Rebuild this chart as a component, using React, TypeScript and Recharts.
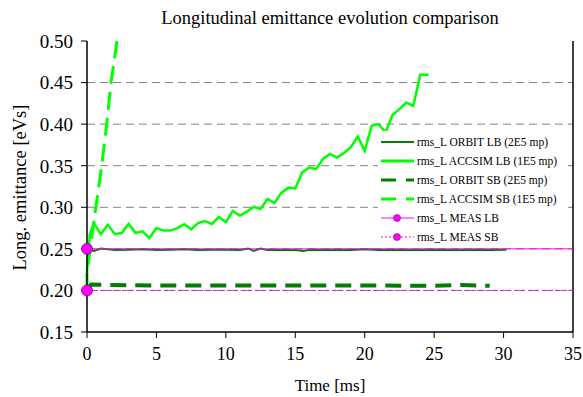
import { LineChart, Line, XAxis, YAxis, CartesianGrid, ReferenceLine, Legend, Label } from "recharts";

const xTicks = [0, 5, 10, 15, 20, 25, 30, 35];
const yTicks = [0.15, 0.2, 0.25, 0.3, 0.35, 0.4, 0.45, 0.5];
const gridLevels = [0.2, 0.25, 0.3, 0.35, 0.4, 0.45];

const orbitLbTime = [0, 0.5, 1, 2, 3, 4, 5, 6, 7, 8, 9, 10, 11, 11.6, 12, 12.5, 13, 14, 15, 15.6, 16, 17, 18, 19, 20, 21, 22, 23, 24, 25, 26, 27, 28, 29, 30.2];
const orbitLbValue = [0.25, 0.2475, 0.2505, 0.2485, 0.249, 0.2495, 0.2485, 0.249, 0.2495, 0.2485, 0.249, 0.249, 0.2485, 0.2505, 0.2475, 0.2505, 0.2485, 0.2485, 0.2485, 0.2475, 0.249, 0.2485, 0.249, 0.2485, 0.2495, 0.2485, 0.249, 0.2485, 0.2485, 0.249, 0.2485, 0.2485, 0.249, 0.2485, 0.249];

const accsimLbTime = [0, 0.2, 0.5, 1, 1.5, 2, 2.5, 3, 3.5, 4, 4.5, 5, 5.5, 6, 6.5, 7, 7.5, 8, 8.5, 9, 9.5, 10, 10.5, 11, 11.5, 12, 12.5, 13, 13.5, 14, 14.5, 15, 15.5, 16, 16.5, 17, 17.5, 18, 18.5, 19, 19.5, 20, 20.5, 21, 21.5, 22, 22.5, 23, 23.5, 24, 24.6];
const accsimLbValue = [0.222, 0.267, 0.281, 0.2675, 0.279, 0.268, 0.269, 0.28, 0.269, 0.271, 0.263, 0.275, 0.272, 0.272, 0.275, 0.2795, 0.2735, 0.281, 0.2835, 0.28, 0.2885, 0.282, 0.2955, 0.29, 0.2945, 0.3005, 0.298, 0.31, 0.305, 0.3176, 0.3236, 0.3226, 0.342, 0.3477, 0.3458, 0.3582, 0.3642, 0.3598, 0.3651, 0.3723, 0.3851, 0.3678, 0.398, 0.4, 0.39, 0.411, 0.418, 0.426, 0.422, 0.4594, 0.4594];

const orbitSbTime = [0, 0.3, 2, 5, 10, 15, 20, 25, 27, 29];
const orbitSbValue = [0.202, 0.207, 0.2065, 0.206, 0.206, 0.206, 0.206, 0.2055, 0.2065, 0.2055];

const accsimSbTime = [0, 0, 0.58, 1.06, 1.42, 1.73, 2.16, 2.5];
const accsimSbValue = [0.2, 0.222, 0.293, 0.35, 0.4, 0.45, 0.5, 0.55];

const measLbTime = [0, 35];
const measLbValue = [0.25, 0.25];
const measSbTime = [0, 35];
const measSbValue = [0.2, 0.2];

const zip = (t: number[], v: number[]) => t.map((x, i) => ({ t: x, v: v[i] }));

const FONT = "Liberation Serif";

const series = [
  { name: "rms_L ORBIT LB (2E5 mp)", data: zip(orbitLbTime, orbitLbValue), color: "#008000", width: 2, dash: undefined, legendDash: undefined, marker: false },
  { name: "rms_L ACCSIM LB (1E5 mp)", data: zip(accsimLbTime, accsimLbValue), color: "#00ff00", width: 2.5, dash: undefined, legendDash: undefined, marker: false },
  { name: "rms_L ORBIT SB (2E5 mp)", data: zip(orbitSbTime, orbitSbValue), color: "#008000", width: 4, dash: "16 9", legendDash: "15 10", marker: false },
  { name: "rms_L ACCSIM SB (1E5 mp)", data: zip(accsimSbTime, accsimSbValue), color: "#00ff00", width: 3, dash: "18 8", legendDash: "15 10", marker: false },
  { name: "rms_L MEAS LB", data: zip(measLbTime, measLbValue), color: "#ff00ff", width: 1, dash: undefined, legendDash: undefined, marker: true },
  { name: "rms_L MEAS SB", data: zip(measSbTime, measSbValue), color: "#ff00ff", width: 1, dash: "4 3", legendDash: "2 2", marker: true },
];

function firstDot(props: any) {
  const { cx, cy, index } = props;
  if (index !== 0) return <g key={`e${index}`} />;
  return <circle key={`d${index}`} cx={cx} cy={cy} r={5.5} fill="#ff00ff" stroke="#800080" strokeWidth={0.8} />;
}

function XTick(props: any) {
  const { x, y, payload } = props;
  return (
    <text x={x} y={y} dy="0.75em" textAnchor="middle" fontFamily={FONT} fontSize={18} fill="#000">
      {payload.value}
    </text>
  );
}

function YTick(props: any) {
  const { x, y, payload } = props;
  return (
    <text x={x} y={y} dy="0.36em" textAnchor="end" fontFamily={FONT} fontSize={19} fill="#000">
      {Number(payload.value).toFixed(2)}
    </text>
  );
}

function XTitle(props: any) {
  const { x, width } = props.viewBox;
  return (
    <text x={x + width / 2} y={391} textAnchor="middle" fontFamily={FONT} fontSize={17} fill="#000">
      Time [ms]
    </text>
  );
}

function YTitle(props: any) {
  const { y, height } = props.viewBox;
  const cy = y + height / 2 + 1;
  return (
    <text x={20} y={cy} dy="0.35em" textAnchor="middle" transform={`rotate(-90 20 ${cy})`} fontFamily={FONT} fontSize={18.5} fill="#000">
      Long. emittance [eVs]
    </text>
  );
}

function LegendBox() {
  return (
    <div style={{ background: "#fff", width: 188, padding: "2px 0", fontFamily: FONT, fontSize: 11.5, color: "#000" }}>
      {series.map((s) => (
        <div key={s.name} style={{ display: "flex", alignItems: "center", height: 18.9 }}>
          <svg width={36} height={12} style={{ marginLeft: 3, flexShrink: 0 }}>
            <line x1={0} y1={6} x2={33} y2={6} stroke={s.color} strokeWidth={s.width > 2 ? 3 : s.width} strokeDasharray={s.legendDash} />
            {s.marker && <circle cx={16} cy={6} r={3.5} fill="#ff00ff" stroke="#800080" strokeWidth={0.6} />}
          </svg>
          <span style={{ whiteSpace: "nowrap" }}>{s.name}</span>
        </div>
      ))}
    </div>
  );
}

export default function App() {
  return (
    <div style={{ position: "absolute", left: 0, top: 0, width: 583, height: 397, background: "#fff", fontFamily: FONT }}>
      <div style={{ position: "absolute", left: 87, top: 7, width: 486, textAlign: "center", fontSize: 18.5, lineHeight: "22px", color: "#000" }}>
        Longitudinal emittance evolution comparison
      </div>
      <LineChart width={583} height={397} margin={{ top: 41, right: 10, bottom: 0, left: 0 }}>
        <CartesianGrid vertical={false} horizontalValues={gridLevels} stroke="#808080" strokeDasharray="8 5" />
        <XAxis
          type="number"
          dataKey="t"
          domain={[0, 35]}
          ticks={xTicks}
          height={65}
          tickSize={6}
          tickMargin={8}
          axisLine={{ stroke: "#000", strokeWidth: 1.5 }}
          tickLine={{ stroke: "#000" }}
          tick={<XTick />}
        >
          <Label content={<XTitle />} />
        </XAxis>
        <YAxis
          type="number"
          domain={[0.15, 0.5]}
          ticks={yTicks}
          allowDataOverflow
          width={87}
          tickSize={6}
          tickMargin={8}
          axisLine={{ stroke: "#000", strokeWidth: 1.5 }}
          tickLine={{ stroke: "#000" }}
          tick={<YTick />}
        >
          <Label content={<YTitle />} />
        </YAxis>
        <ReferenceLine x={35} stroke="#000" strokeWidth={1.5} />
        {series.map((s) => (
          <Line
            key={s.name}
            data={s.data}
            dataKey="v"
            name={s.name}
            type="linear"
            stroke={s.color}
            strokeWidth={s.width}
            strokeDasharray={s.dash}
            dot={s.marker ? firstDot : false}
            activeDot={false}
            isAnimationActive={false}
          />
        ))}
        <Legend
          layout="vertical"
          align="center"
          verticalAlign="middle"
          content={<LegendBox />}
          wrapperStyle={{ left: 378, top: 131, width: 188 }}
        />
      </LineChart>
    </div>
  );
}
